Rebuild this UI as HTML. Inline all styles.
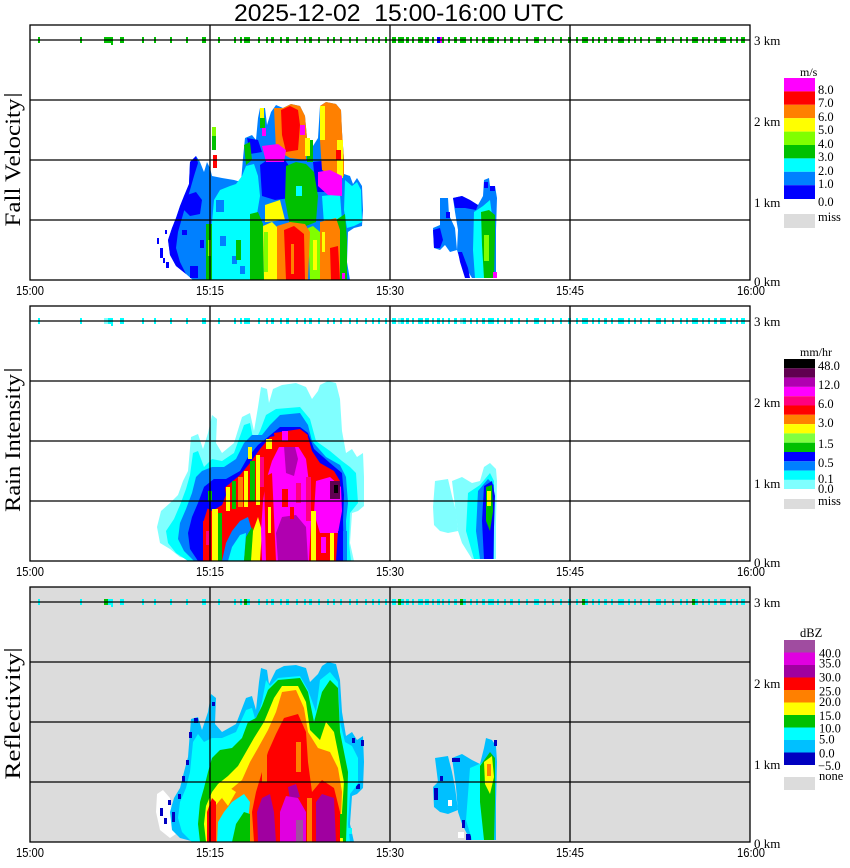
<!DOCTYPE html>
<html><head><meta charset="utf-8"><style>
html,body{margin:0;padding:0;background:#fff;}
svg{display:block;}
.t{font-family:"Liberation Sans",sans-serif;}
.s{font-family:"Liberation Serif",serif;}
</style></head><body>
<svg width="850" height="868" viewBox="0 0 850 868" xmlns="http://www.w3.org/2000/svg">
<defs>
<clipPath id="pc"><rect x="30" y="25" width="720" height="255"/></clipPath>
<g id="marks">
<rect x="38" y="37" width="2" height="6"/><rect x="80" y="37" width="2" height="6"/><rect x="104" y="37" width="9" height="6"/><rect x="111" y="37" width="2" height="8"/><rect x="120" y="37" width="4" height="6"/><rect x="142" y="37" width="2" height="6"/><rect x="154" y="37" width="2" height="6"/><rect x="170" y="37" width="2" height="6"/><rect x="186" y="37" width="2" height="6"/><rect x="202" y="37" width="4" height="6"/><rect x="218" y="37" width="2" height="6"/><rect x="234" y="37" width="2" height="6"/><rect x="240" y="37" width="2" height="6"/><rect x="244" y="37" width="6" height="6"/><rect x="258" y="37" width="2" height="6"/><rect x="266" y="37" width="2" height="6"/><rect x="271" y="37" width="3" height="6"/><rect x="280" y="37" width="2" height="6"/><rect x="286" y="37" width="3" height="6"/><rect x="296" y="37" width="2" height="6"/><rect x="304" y="37" width="2" height="6"/><rect x="309" y="37" width="3" height="6"/><rect x="318" y="37" width="2" height="6"/><rect x="327" y="37" width="2" height="6"/><rect x="333" y="37" width="2" height="6"/><rect x="340" y="37" width="2" height="6"/><rect x="349" y="37" width="2" height="6"/><rect x="356" y="37" width="2" height="6"/><rect x="365" y="37" width="2" height="6"/><rect x="372" y="37" width="2" height="6"/><rect x="378" y="37" width="2" height="6"/><rect x="385" y="37" width="2" height="6"/><rect x="392" y="37" width="4" height="6"/><rect x="398" y="37" width="6" height="6"/><rect x="406" y="37" width="3" height="6"/><rect x="412" y="37" width="2" height="6"/><rect x="418" y="37" width="5" height="6"/><rect x="425" y="37" width="4" height="6"/><rect x="432" y="37" width="2" height="6"/><rect x="437" y="37" width="3" height="6"/><rect x="442" y="37" width="2" height="6"/><rect x="448" y="37" width="2" height="6"/><rect x="454" y="37" width="3" height="6"/><rect x="460" y="37" width="6" height="6"/><rect x="470" y="37" width="2" height="6"/><rect x="476" y="37" width="2" height="6"/><rect x="482" y="37" width="3" height="6"/><rect x="488" y="37" width="6" height="6"/><rect x="497" y="37" width="2" height="6"/><rect x="504" y="37" width="2" height="6"/><rect x="510" y="37" width="3" height="6"/><rect x="518" y="37" width="2" height="6"/><rect x="526" y="37" width="2" height="6"/><rect x="534" y="37" width="5" height="6"/><rect x="544" y="37" width="2" height="6"/><rect x="552" y="37" width="2" height="6"/><rect x="560" y="37" width="2" height="6"/><rect x="568" y="37" width="3" height="6"/><rect x="576" y="37" width="2" height="6"/><rect x="582" y="37" width="6" height="6"/><rect x="592" y="37" width="2" height="6"/><rect x="598" y="37" width="2" height="6"/><rect x="604" y="37" width="3" height="6"/><rect x="611" y="37" width="2" height="6"/><rect x="618" y="37" width="6" height="6"/><rect x="628" y="37" width="2" height="6"/><rect x="634" y="37" width="2" height="6"/><rect x="640" y="37" width="2" height="6"/><rect x="648" y="37" width="2" height="6"/><rect x="656" y="37" width="5" height="6"/><rect x="664" y="37" width="2" height="6"/><rect x="672" y="37" width="2" height="6"/><rect x="680" y="37" width="2" height="6"/><rect x="686" y="37" width="2" height="6"/><rect x="692" y="37" width="6" height="6"/><rect x="702" y="37" width="2" height="6"/><rect x="708" y="37" width="2" height="6"/><rect x="714" y="37" width="3" height="6"/><rect x="720" y="37" width="6" height="6"/><rect x="730" y="37" width="2" height="6"/><rect x="736" y="37" width="2" height="6"/><rect x="741" y="37" width="4" height="6"/>
</g>
<g id="grid" fill="none" stroke="#000" stroke-width="1.3">
<rect x="30" y="25" width="720" height="255"/>
<line x1="30" y1="40" x2="750" y2="40"/><line x1="30" y1="100" x2="750" y2="100"/><line x1="30" y1="160" x2="750" y2="160"/><line x1="30" y1="220" x2="750" y2="220"/>
<line x1="210" y1="25" x2="210" y2="280"/><line x1="390" y1="25" x2="390" y2="280"/><line x1="570" y1="25" x2="570" y2="280"/>
</g>
<g id="axlab">
<text class="t" x="30" y="295" font-size="12.5" text-anchor="middle" textLength="28" lengthAdjust="spacingAndGlyphs">15:00</text>
<text class="t" x="210" y="295" font-size="12.5" text-anchor="middle" textLength="28" lengthAdjust="spacingAndGlyphs">15:15</text>
<text class="t" x="390" y="295" font-size="12.5" text-anchor="middle" textLength="28" lengthAdjust="spacingAndGlyphs">15:30</text>
<text class="t" x="570" y="295" font-size="12.5" text-anchor="middle" textLength="28" lengthAdjust="spacingAndGlyphs">15:45</text>
<text class="t" x="751" y="295" font-size="12.5" text-anchor="middle" textLength="28" lengthAdjust="spacingAndGlyphs">16:00</text>
<text class="s" x="754" y="45" font-size="13">3 km</text>
<text class="s" x="754" y="126" font-size="13">2 km</text>
<text class="s" x="754" y="207" font-size="13">1 km</text>
<text class="s" x="754" y="286" font-size="13">0 km</text>
</g>
</defs>

<!-- Title -->
<text class="t" x="234" y="21" font-size="24" textLength="330" lengthAdjust="spacingAndGlyphs">2025-12-02&#160; 15:00-16:00 UTC</text>

<!-- ================= PANEL 1: Fall Velocity ================= -->
<g>
<g clip-path="url(#pc)">
<use href="#marks" fill="#00c000"/>
<rect x="437" y="37" width="3" height="6" fill="#0000ff"/><rect x="440" y="37" width="2" height="6" fill="#ff00ff"/>
<path fill="#0080ff" d="M193,280 L186,274 L176,266 L170,255 L168,240 L172,228 L176,218 L180,206 L184,196 L189,184 L190,162 L196,156 L200,162 L204,172 L207,162 L210,168 L212,176 L222,178 L234,180 L241,182 L243,158 L245,138 L252,135 L256,140 L258,118 L260,108 L265,108 L267,125 L271,112 L276,105 L283,108 L291,104 L300,106 L305,116 L307,138 L313,146 L318,138 L320,106 L326,102 L336,104 L341,110 L342,132 L344,160 L344,174 L350,176 L353,184 L357,178 L362,186 L363,210 L362,226 L354,228 L348,232 L347,262 L350,280 Z"/>
<g fill="#0000ff">
<path d="M176,266 L170,255 L168,240 L172,228 L176,218 L180,206 L184,196 L189,184 L190,162 L196,156 L198,163 L194,176 L190,190 L186,204 L182,218 L178,232 L176,248 L180,262 L186,274 Z"/>
<path d="M184,196 L196,192 L202,200 L200,214 L190,216 L184,210 Z"/>
<rect x="190" y="266" width="8" height="12"/><rect x="200" y="240" width="4" height="8"/><rect x="182" y="230" width="5" height="5"/>
<path d="M260,165 L270,158 L285,160 L292,170 L290,198 L275,200 L262,196 Z"/>
<path d="M313,162 L330,160 L334,176 L332,192 L316,192 Z"/>
<path d="M247,138 L258,140 L262,152 L250,154 Z"/>
<rect x="157" y="238" width="2" height="6"/><rect x="160" y="248" width="3" height="10"/><rect x="163" y="258" width="2" height="5"/><rect x="166" y="262" width="3" height="6"/><rect x="165" y="230" width="2" height="4"/>
</g>
<g fill="#00ffff">
<path d="M212,280 L211,250 L212,222 L214,200 L220,190 L230,186 L236,184 L242,176 L246,166 L254,164 L258,176 L260,196 L257,214 L252,222 L250,280 Z"/>
<path d="M345,180 L352,186 L357,182 L361,190 L362,222 L354,226 L347,228 L344,210 Z"/>
<path d="M322,196 L340,194 L342,222 L324,224 Z"/>
<path d="M290,200 L300,198 L304,214 L292,220 Z"/>
</g>
<g fill="#0080ff"><rect x="220" y="236" width="6" height="10"/><rect x="232" y="256" width="5" height="8"/><rect x="216" y="200" width="8" height="12"/><rect x="240" y="266" width="5" height="8"/></g>
<g fill="#00c000">
<rect x="206" y="224" width="6" height="56"/>
<path d="M250,214 L258,212 L263,224 L264,280 L250,280 Z"/>
<path d="M286,166 L296,162 L306,164 L314,172 L318,196 L316,222 L306,226 L290,226 L285,200 Z"/>
<path d="M336,220 L345,214 L347,240 L347,280 L338,280 Z"/>
<path d="M244,145 L250,142 L252,160 L246,165 Z"/>
<rect x="212" y="135" width="4" height="15"/>
<rect x="307" y="140" width="6" height="22"/>
<rect x="236" y="240" width="5" height="20"/>
</g>
<g fill="#00ffff"><rect x="296" y="186" width="6" height="10"/></g>
<rect x="212" y="127" width="4" height="9" fill="#80ff00"/>
<rect x="208" y="240" width="3" height="16" fill="#80ff00"/>
<path fill="#ffff00" d="M263,226 L272,222 L278,228 L278,280 L264,280 Z"/>
<path fill="#ffff00" d="M265,205 L280,200 L285,220 L265,222 Z"/>
<path fill="#80ff00" d="M308,228 L313,226 L320,232 L320,280 L310,280 Z"/>
<rect x="313" y="240" width="4" height="30" fill="#ffff00"/>
<rect x="264" y="232" width="4" height="40" fill="#80ff00"/>
<path fill="#ff8000" d="M277,226 L290,222 L305,224 L310,232 L308,280 L277,280 Z"/>
<path fill="#ff8000" d="M320,222 L336,218 L340,230 L340,280 L320,280 Z"/>
<path fill="#ff0000" d="M284,230 L294,226 L304,234 L305,280 L286,280 Z"/>
<rect x="291" y="244" width="3" height="30" fill="#ff8000"/>
<path fill="#ff0000" d="M330,248 L338,246 L340,280 L331,280 Z"/>
<rect x="322" y="232" width="3" height="20" fill="#ffff00"/>
<rect x="342" y="273" width="3" height="6" fill="#ff00ff"/>
<path fill="#ff8000" d="M274,108 L283,108 L291,104 L300,106 L305,116 L307,138 L306,160 L290,158 L276,150 Z"/>
<path fill="#ff0000" d="M281,110 L290,106 L298,110 L300,125 L298,150 L286,152 L282,135 Z"/>
<rect x="300" y="125" width="5" height="10" fill="#ff00ff"/>
<rect x="305" y="138" width="5" height="18" fill="#ffff00"/>
<path fill="#ff00ff" d="M262,146 L278,144 L286,150 L284,162 L266,162 Z"/>
<rect x="260" y="108" width="4" height="10" fill="#ffff00"/>
<rect x="260" y="118" width="5" height="10" fill="#00c000"/>
<rect x="262" y="128" width="4" height="8" fill="#ff00ff"/>
<path fill="#ff8000" d="M320,106 L326,102 L336,104 L341,110 L342,132 L344,160 L344,176 L336,178 L322,170 L320,140 Z"/>
<rect x="320" y="106" width="5" height="34" fill="#ffff00"/>
<rect x="337" y="140" width="6" height="38" fill="#ffff00"/>
<rect x="336" y="150" width="5" height="10" fill="#ff0000"/>
<path fill="#ff00ff" d="M318,172 L330,170 L342,176 L342,196 L328,195 L318,186 Z"/>
<rect x="213" y="155" width="4" height="13" fill="#ff0000"/>
<path fill="#0080ff" d="M440,198 L448,198 L449,215 L455,228 L457,250 L450,252 L445,245 L440,250 L434,248 L433,228 L440,225 Z"/>
<path fill="#0080ff" d="M453,198 L462,196 L470,200 L478,205 L483,196 L484,180 L489,178 L490,186 L495,186 L497,198 L496,230 L496,272 L497,278 L472,278 L466,268 L460,260 L457,250 L458,230 L455,212 Z"/>
<g fill="#0000ff">
<path d="M433,230 L440,228 L443,240 L440,248 L434,248 Z"/>
<path d="M453,198 L462,196 L470,200 L478,205 L476,210 L465,208 L455,208 Z"/>
<path d="M458,252 L462,252 L468,268 L470,278 L465,278 L460,262 Z"/>
<rect x="484" y="182" width="4" height="6"/><rect x="490" y="186" width="5" height="5"/><rect x="446" y="212" width="4" height="6"/>
</g>
<path fill="#00ffff" d="M474,212 L483,206 L490,200 L492,215 L490,278 L475,278 L473,250 Z"/>
<path fill="#00c000" d="M481,212 L489,210 L495,215 L495,235 L494,278 L484,278 L482,245 Z"/>
<rect x="484" y="235" width="5" height="26" fill="#80ff00"/>
<rect x="493" y="272" width="4" height="6" fill="#ff00ff"/>
</g>
<use href="#grid"/>
<use href="#axlab"/>
<line x1="4" y1="95" x2="22" y2="95" stroke="#000" stroke-width="1.2"/>
<text class="s" transform="translate(20,162.5) rotate(-90)" font-size="22" text-anchor="middle" textLength="128" lengthAdjust="spacingAndGlyphs">Fall Velocity</text>
<text class="s" x="800" y="76" font-size="12">m/s</text>
<rect x="784" y="78" width="31" height="13.4" fill="#ff00ff"/>
<rect x="784" y="91.4" width="31" height="13.4" fill="#ff0000"/>
<rect x="784" y="104.8" width="31" height="13.4" fill="#ff8000"/>
<rect x="784" y="118.2" width="31" height="13.4" fill="#ffff00"/>
<rect x="784" y="131.6" width="31" height="13.4" fill="#80ff00"/>
<rect x="784" y="145" width="31" height="13.4" fill="#00c000"/>
<rect x="784" y="158.4" width="31" height="13.4" fill="#00ffff"/>
<rect x="784" y="171.8" width="31" height="13.4" fill="#0080ff"/>
<rect x="784" y="185.2" width="31" height="13.8" fill="#0000ff"/>
<rect x="784" y="214" width="31" height="14" fill="#dcdcdc"/>
<g class="s" font-size="12.5">
<text x="818" y="94">8.0</text><text x="818" y="107">7.0</text><text x="818" y="121">6.0</text><text x="818" y="134">5.0</text><text x="818" y="148">4.0</text><text x="818" y="161">3.0</text><text x="818" y="175">2.0</text><text x="818" y="188">1.0</text><text x="818" y="206">0.0</text><text x="818" y="221">miss</text>
</g>
</g>

<!-- ================= PANEL 2: Rain Intensity ================= -->
<g transform="translate(0,281)">
<g clip-path="url(#pc)">
<use href="#marks" fill="#00ffff"/>
<g fill="#80ffff"><rect x="104" y="37" width="4" height="6"/><rect x="398" y="37" width="3" height="6"/><rect x="460" y="37" width="3" height="6"/></g>
<path fill="#80ffff" d="M195,280 L180,276 L170,268 L160,262 L157,246 L161,230 L170,222 L178,214 L183,200 L188,190 L191,156 L198,153 L203,168 L208,152 L212,134 L217,138 L216,162 L222,172 L234,162 L242,136 L250,132 L254,150 L258,126 L261,106 L267,108 L269,122 L273,108 L282,104 L296,102 L306,106 L312,118 L318,110 L320,104 L328,100 L336,102 L340,118 L342,150 L346,172 L352,168 L357,176 L363,172 L364,196 L364,225 L358,230 L352,232 L350,262 L354,280 Z"/>
<path fill="#00ffff" d="M188,280 L176,272 L168,262 L166,250 L174,238 L180,224 L186,208 L190,194 L193,172 L198,170 L204,186 L212,178 L222,180 L234,172 L244,144 L250,142 L254,162 L260,150 L266,134 L276,128 L300,126 L310,138 L316,160 L330,170 L342,180 L350,186 L356,192 L358,222 L350,232 L349,262 L351,280 Z"/>
<path fill="#0080ff" d="M194,280 L184,270 L178,258 L180,242 L186,228 L192,212 L196,196 L202,190 L212,186 L224,186 L236,178 L244,162 L252,154 L262,154 L270,144 L280,134 L300,132 L308,144 L312,160 L326,176 L340,184 L346,196 L348,222 L346,240 L347,280 Z"/>
<path fill="#0000ff" d="M198,280 L190,268 L188,252 L192,236 L198,222 L204,206 L214,198 L226,198 L240,190 L248,176 L258,164 L268,156 L280,146 L300,146 L308,152 L314,168 L330,182 L342,192 L344,214 L343,240 L344,280 Z"/>
<!-- core red base -->
<path fill="#ff0000" d="M203,280 L203,242 L208,226 L218,212 L228,204 L240,194 L250,182 L260,168 L270,156 L300,150 L308,156 L312,170 L320,182 L334,190 L340,200 L341,232 L338,250 L336,280 Z"/>
<!-- blue/green patch left-mid -->
<path fill="#0000ff" d="M204,206 L214,198 L224,200 L226,214 L222,224 L212,230 L205,226 Z"/>
<rect x="208" y="210" width="4" height="10" fill="#00c000"/>
<!-- streaks lower-left -->
<rect x="212" y="228" width="6" height="52" fill="#ffff00"/>
<rect x="218" y="232" width="4" height="48" fill="#00c000"/>
<path fill="#0080ff" d="M222,280 L226,262 L232,250 L240,240 L248,236 L252,250 L248,280 Z"/>
<path fill="#00ffff" d="M228,280 L232,266 L240,254 L246,252 L244,280 Z"/>
<path fill="#00c000" d="M244,280 L246,256 L252,246 L256,256 L254,280 Z"/>
<path fill="#ffff00" d="M251,280 L253,250 L258,236 L262,250 L260,280 Z"/>
<!-- mid streaks -->
<rect x="226" y="206" width="4" height="24" fill="#ffff00"/>
<rect x="232" y="200" width="4" height="28" fill="#00c000"/>
<rect x="238" y="196" width="5" height="30" fill="#ff8000"/>
<rect x="244" y="190" width="4" height="36" fill="#ffff00"/>
<rect x="250" y="180" width="5" height="40" fill="#00c000"/>
<rect x="256" y="174" width="4" height="50" fill="#ffff00"/>
<rect x="248" y="166" width="4" height="12" fill="#ffff00"/>
<!-- magenta core -->
<path fill="#ff00ff" d="M262,280 L261,250 L263,220 L266,200 L272,180 L280,164 L296,162 L306,178 L310,210 L311,240 L309,280 Z"/>
<path fill="#ff00ff" d="M316,200 L330,196 L341,206 L342,230 L338,252 L320,252 L314,232 Z"/>
<path fill="#ff0000" d="M264,196 L272,192 L276,280 L266,280 Z"/>
<rect x="268" y="226" width="3" height="26" fill="#ffff00"/>
<rect x="260" y="176" width="4" height="30" fill="#ff0080"/>
<rect x="306" y="196" width="5" height="44" fill="#ff0080"/>
<rect x="311" y="230" width="5" height="50" fill="#ffff00"/>
<rect x="316" y="252" width="14" height="28" fill="#ff0000"/>
<rect x="321" y="256" width="5" height="16" fill="#ff00ff"/>
<rect x="330" y="252" width="4" height="28" fill="#ffff00"/>
<path fill="#b000b0" d="M278,280 L276,252 L282,236 L296,234 L306,246 L308,280 Z"/>
<path fill="#b000b0" d="M284,165 L294,162 L298,178 L294,195 L286,192 Z"/>
<rect x="282" y="208" width="6" height="18" fill="#ff0000"/>
<rect x="296" y="202" width="5" height="20" fill="#ff0080"/>
<rect x="290" y="226" width="4" height="12" fill="#ff0000"/>
<rect x="330" y="200" width="10" height="18" fill="#600050"/>
<rect x="334" y="204" width="4" height="8" fill="#000000"/>
<!-- upper red cap -->
<path fill="#ff0000" d="M274,152 L300,148 L308,154 L306,166 L276,166 Z"/>
<rect x="282" y="150" width="6" height="10" fill="#ff00ff"/>
<rect x="266" y="158" width="6" height="10" fill="#ffff00"/>
<!-- left red streak -->
<rect x="203" y="240" width="8" height="40" fill="#ff0000"/>
<rect x="206" y="250" width="3" height="14" fill="#ff0080"/>
<!-- right edge -->
<rect x="338" y="250" width="5" height="30" fill="#0000ff"/>
<rect x="343" y="250" width="4" height="30" fill="#0080ff"/>
<!-- second echo -->
<path fill="#80ffff" d="M435,200 L448,198 L452,215 L456,230 L458,250 L448,252 L440,250 L434,244 L433,226 Z"/>
<path fill="#80ffff" d="M452,200 L462,196 L472,202 L480,200 L484,186 L490,182 L496,188 L497,200 L496,240 L496,278 L472,278 L462,262 L458,250 L455,225 Z"/>
<path fill="#00ffff" d="M468,212 L480,204 L490,192 L494,200 L494,278 L474,278 L466,250 Z"/>
<path fill="#0080ff" d="M478,210 L488,198 L494,204 L494,278 L480,278 L476,250 Z"/>
<path fill="#0000ff" d="M484,205 L492,200 L495,215 L493,278 L484,278 L482,240 Z"/>
<path fill="#00c000" d="M486,206 L492,204 L493,230 L490,250 L486,240 Z"/>
<rect x="487" y="210" width="4" height="15" fill="#ffff00"/>
</g>
<use href="#grid"/>
<use href="#axlab"/>
<line x1="4" y1="89" x2="22" y2="89" stroke="#000" stroke-width="1.2"/>
<text class="s" transform="translate(20,162) rotate(-90)" font-size="22" text-anchor="middle" textLength="138" lengthAdjust="spacingAndGlyphs">Rain Intensity</text>
<text class="s" x="800" y="75" font-size="12">mm/hr</text>
<rect x="784" y="78" width="31" height="9.3" fill="#000000"/>
<rect x="784" y="87.3" width="31" height="9.3" fill="#600050"/>
<rect x="784" y="96.6" width="31" height="9.3" fill="#b000b0"/>
<rect x="784" y="105.9" width="31" height="9.3" fill="#ff00ff"/>
<rect x="784" y="115.2" width="31" height="9.3" fill="#ff0080"/>
<rect x="784" y="124.5" width="31" height="9.3" fill="#ff0000"/>
<rect x="784" y="133.8" width="31" height="9.3" fill="#ff8000"/>
<rect x="784" y="143.1" width="31" height="9.3" fill="#ffff00"/>
<rect x="784" y="152.4" width="31" height="9.3" fill="#80ff40"/>
<rect x="784" y="161.7" width="31" height="9.3" fill="#00c000"/>
<rect x="784" y="171" width="31" height="9.3" fill="#0000ff"/>
<rect x="784" y="180.3" width="31" height="9.3" fill="#0080ff"/>
<rect x="784" y="189.6" width="31" height="9.3" fill="#00ffff"/>
<rect x="784" y="198.9" width="31" height="9.1" fill="#80ffff"/>
<rect x="784" y="218" width="31" height="10" fill="#dcdcdc"/>
<g class="s" font-size="12.5">
<text x="818" y="89">48.0</text><text x="818" y="108">12.0</text><text x="818" y="127">6.0</text><text x="818" y="146">3.0</text><text x="818" y="167">1.5</text><text x="818" y="186">0.5</text><text x="818" y="202">0.1</text><text x="818" y="212">0.0</text><text x="818" y="224">miss</text>
</g>
</g>

<!-- ================= PANEL 3: Reflectivity ================= -->
<g transform="translate(0,562)">
<rect x="30" y="25" width="720" height="255" fill="#dcdcdc"/>
<g clip-path="url(#pc)">
<use href="#marks" fill="#00ffff"/>
<g fill="#00c000"><rect x="104" y="37" width="4" height="6"/><rect x="244" y="37" width="3" height="6"/><rect x="398" y="37" width="3" height="6"/><rect x="460" y="37" width="3" height="6"/><rect x="582" y="37" width="3" height="6"/><rect x="692" y="37" width="3" height="6"/></g>
<path fill="#ffffff" d="M157,232 L163,228 L170,236 L172,258 L176,272 L170,276 L160,268 L156,250 Z"/>
<g fill="#0000c0"><rect x="160" y="246" width="3" height="8"/><rect x="164" y="256" width="3" height="6"/><rect x="168" y="238" width="3" height="5"/></g>
<path fill="#00c0ff" d="M195,280 L180,276 L172,268 L170,250 L174,236 L180,226 L184,210 L188,195 L191,157 L198,155 L202,168 L208,150 L211,132 L216,136 L215,162 L222,170 L236,162 L246,136 L252,134 L256,148 L259,120 L261,106 L267,108 L269,122 L276,108 L284,104 L296,103 L306,106 L310,120 L318,112 L322,104 L328,100 L336,102 L340,118 L342,150 L346,174 L352,170 L357,178 L363,174 L364,200 L363,226 L357,232 L352,234 L350,262 L354,280 Z"/>
<g fill="#0000c0">
<rect x="172" y="250" width="3" height="10"/><rect x="178" y="232" width="3" height="5"/><rect x="182" y="214" width="3" height="6"/><rect x="186" y="198" width="3" height="5"/><rect x="189" y="170" width="3" height="6"/><rect x="194" y="156" width="4" height="5"/><rect x="196" y="272" width="8" height="5"/><rect x="212" y="140" width="3" height="4"/><rect x="352" y="176" width="3" height="5"/><rect x="361" y="178" width="3" height="6"/><rect x="356" y="222" width="4" height="5"/><rect x="246" y="150" width="3" height="4"/><rect x="216" y="200" width="4" height="4"/>
</g>
<path fill="#00ffff" d="M192,280 L182,270 L178,256 L180,240 L186,226 L190,210 L193,180 L198,172 L204,180 L212,176 L222,176 L236,170 L246,148 L252,146 L256,160 L262,140 L266,118 L270,124 L278,116 L300,114 L308,128 L316,150 L320,118 L330,110 L338,120 L340,160 L345,180 L352,184 L358,196 L358,222 L350,232 L348,262 L350,280 Z"/>
<path fill="#00c000" d="M200,280 L198,262 L200,240 L204,226 L208,210 L212,196 L220,188 L232,186 L242,176 L248,160 L256,156 L262,144 L268,128 L278,118 L300,116 L308,130 L314,160 L322,130 L330,118 L338,126 L340,170 L344,190 L348,210 L347,250 L346,280 Z"/>
<path fill="#ffff00" d="M206,280 L204,262 L206,244 L212,230 L218,222 L228,214 L238,204 L246,190 L254,176 L264,160 L274,136 L282,124 L298,124 L306,140 L310,168 L320,178 L326,160 L334,170 L340,200 L344,220 L342,250 L343,280 Z"/>
<path fill="#ff8000" d="M208,280 L207,262 L212,248 L220,238 L230,228 L242,218 L250,200 L258,186 L268,168 L276,150 L282,130 L296,128 L304,146 L308,170 L318,186 L330,190 L338,206 L342,230 L340,280 Z"/>
<path fill="#00ffff" d="M217,280 L218,260 L224,250 L232,240 L244,232 L250,240 L248,260 L246,280 Z"/>
<path fill="#00c000" d="M232,280 L236,262 L244,250 L250,252 L250,280 Z"/>
<path fill="#ffff00" d="M222,236 L230,226 L236,230 L228,244 Z"/>
<path fill="#ff0000" d="M254,280 L252,250 L256,230 L262,210 L268,190 L276,172 L284,156 L298,152 L306,170 L308,200 L312,230 L322,218 L334,226 L340,250 L340,280 Z"/>
<path fill="#ff0000" d="M207,280 L207,250 L212,236 L216,240 L216,280 Z"/>
<rect x="262" y="190" width="5" height="30" fill="#ff8000"/>
<rect x="296" y="180" width="5" height="30" fill="#ff8000"/>
<path fill="#a000a0" d="M258,280 L257,250 L262,236 L270,232 L274,250 L276,280 Z"/>
<path fill="#a000a0" d="M316,280 L316,240 L322,232 L334,236 L336,280 Z"/>
<path fill="#a000a0" d="M288,225 L296,222 L300,235 L290,238 Z"/>
<path fill="#e000e0" d="M280,280 L280,250 L286,234 L298,236 L306,250 L306,280 Z"/>
<rect x="296" y="258" width="7" height="22" fill="#a050a0"/>
<rect x="307" y="236" width="5" height="44" fill="#ff8000"/>
<rect x="313" y="248" width="3" height="30" fill="#ff0000"/>
<rect x="340" y="252" width="4" height="24" fill="#00c000"/>
<rect x="347" y="266" width="5" height="6" fill="#00ffff"/>
<path fill="#00c0ff" d="M435,196 L448,194 L452,210 L455,225 L458,248 L448,252 L440,250 L434,245 L433,225 L438,220 Z"/>
<path fill="#00c0ff" d="M452,196 L462,192 L472,198 L480,202 L484,186 L486,176 L492,178 L496,184 L497,200 L496,240 L496,278 L470,278 L462,262 L458,250 L456,225 Z"/>
<g fill="#0000c0"><rect x="434" y="226" width="4" height="12"/><rect x="440" y="214" width="3" height="5"/><rect x="452" y="196" width="8" height="4"/><rect x="466" y="272" width="5" height="6"/><rect x="494" y="178" width="3" height="6"/><rect x="462" y="258" width="3" height="8"/></g>
<path fill="#00ffff" d="M470,206 L484,200 L492,196 L494,230 L492,278 L472,278 L466,258 Z"/>
<path fill="#00c000" d="M480,204 L490,190 L495,196 L495,240 L494,278 L484,278 L480,240 Z"/>
<path fill="#ffff00" d="M484,200 L492,194 L494,215 L490,232 L485,222 Z"/>
<rect x="487" y="202" width="4" height="12" fill="#ff8000"/>
<g fill="#ffffff"><rect x="448" y="238" width="4" height="6"/><rect x="458" y="270" width="6" height="6"/></g>
</g>
<use href="#grid"/>
<use href="#axlab"/>
<line x1="4" y1="88" x2="22" y2="88" stroke="#000" stroke-width="1.2"/>
<text class="s" transform="translate(20,154) rotate(-90)" font-size="22" text-anchor="middle" textLength="127" lengthAdjust="spacingAndGlyphs">Reflectivity</text>
<text class="s" x="800" y="75" font-size="12.5">dBZ</text>
<rect x="784" y="78" width="31" height="12.5" fill="#a04ca0"/>
<rect x="784" y="90.5" width="31" height="12.5" fill="#e000e0"/>
<rect x="784" y="103" width="31" height="12.5" fill="#a000a0"/>
<rect x="784" y="115.5" width="31" height="12.5" fill="#ff0000"/>
<rect x="784" y="128" width="31" height="12.5" fill="#ff8000"/>
<rect x="784" y="140.5" width="31" height="12.5" fill="#ffff00"/>
<rect x="784" y="153" width="31" height="12.5" fill="#00c000"/>
<rect x="784" y="165.5" width="31" height="12.5" fill="#00ffff"/>
<rect x="784" y="178" width="31" height="12.5" fill="#00c0ff"/>
<rect x="784" y="190.5" width="31" height="12.5" fill="#0000c0"/>
<rect x="784" y="215" width="31" height="13" fill="#dcdcdc"/>
<g class="s" font-size="12.5">
<text x="819" y="95.5">40.0</text><text x="819" y="105.5">35.0</text><text x="819" y="119.5">30.0</text><text x="819" y="133.5">25.0</text><text x="819" y="144">20.0</text><text x="819" y="158">15.0</text><text x="819" y="170.5">10.0</text><text x="819" y="181.5">5.0</text><text x="819" y="195.5">0.0</text><text x="818" y="208">−5.0</text><text x="819" y="218">none</text>
</g>
</g>
</svg>
</body></html>
